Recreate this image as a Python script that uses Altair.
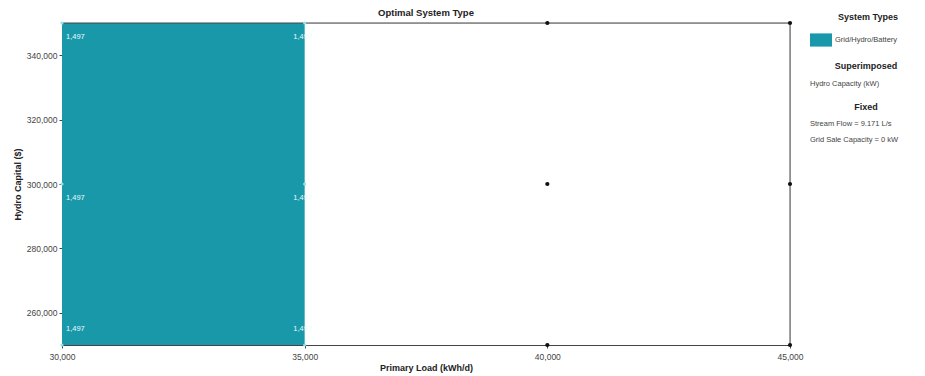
import altair as alt
import pandas as pd

# Sensitivity grid
primary_load = [30000, 35000, 40000, 45000]          # kWh/d
hydro_capital = [250000, 300000, 350000]             # $
optimal_type = ["Grid/Hydro/Battery", "Grid/Hydro/Battery", None, None]  # per load column
hydro_capacity_kw = [1497, 1497, 0, 0]               # superimposed value per load column

x_ticks = [30000, 35000, 40000, 45000]
y_ticks = [260000, 280000, 300000, 320000, 340000]

system_types = ["Grid/Hydro/Battery"]
system_colors = ["#1898a9"]

fixed_lines = ["Stream Flow = 9.171 L/s", "Grid Sale Capacity = 0 kW"]
superimposed_lines = ["Hydro Capacity (kW)"]

FONT = "Liberation Sans"

# Grid points
rows = []
for load, stype, cap in zip(primary_load, optimal_type, hydro_capacity_kw):
    for capital in hydro_capital:
        rows.append({
            "load": load,
            "capital": capital,
            "system": stype if stype else "",
            "feasible": stype is not None,
            "label": f"{cap:,}" if stype else "",
            "edge": "bottom" if capital == min(hydro_capital) else "other",
            "first": load == min(primary_load),
        })
grid = pd.DataFrame(rows)

# Region where the optimal system type applies
feas = grid[grid["feasible"]]
region = pd.DataFrame([{
    "system": system_types[0],
    "x": feas["load"].min(), "x2": feas["load"].max(),
    "y": feas["capital"].min(), "y2": feas["capital"].max(),
}])

W, H = 728, 322

x_scale = alt.Scale(domain=[primary_load[0], primary_load[-1]], nice=False, zero=False)
y_scale = alt.Scale(domain=[hydro_capital[0], hydro_capital[-1]], nice=False, zero=False)

x_axis = alt.Axis(values=x_ticks, format=",.0f", title="Primary Load (kWh/d)",
                  labelFontSize=8.5, labelColor="#444", titleFontSize=9,
                  titleFontWeight="bold", titleColor="#222", tickSize=3,
                  labelPadding=4, titlePadding=3, grid=False, labelFlush=False,
                  domainColor="#444", tickColor="#444", labelFont=FONT, titleFont=FONT)
y_axis = alt.Axis(values=y_ticks, format=",.0f", title="Hydro Capital ($)",
                  labelFontSize=8.5, labelColor="#444", titleFontSize=9,
                  titleFontWeight="bold", titleColor="#222", tickSize=3,
                  labelPadding=2, titlePadding=4, grid=False,
                  domainColor="#444", tickColor="#444", labelFont=FONT, titleFont=FONT)

area = alt.Chart(region).mark_rect(opacity=1).encode(
    x=alt.X("x:Q", scale=x_scale, axis=x_axis),
    x2="x2",
    y=alt.Y("y:Q", scale=y_scale, axis=y_axis),
    y2="y2",
    color=alt.Color("system:N",
                    scale=alt.Scale(domain=system_types, range=system_colors),
                    legend=alt.Legend(title=None, orient="none", legendX=748, legendY=6,
                                      symbolType="M-1,-0.6L1,-0.6L1,0.6L-1,0.6Z",
                                      symbolSize=484, symbolStrokeWidth=0,
                                      labelFontSize=7.5, labelColor="#444",
                                      labelFont=FONT, labelOffset=3, padding=0)),
)

# Top and right frame lines
frame_top = alt.Chart(region).mark_rule(color="#444", strokeWidth=1).encode(
    x=alt.value(0), x2=alt.value(W), y=alt.value(0))
frame_right = alt.Chart(region).mark_rule(color="#444", strokeWidth=1).encode(
    x=alt.value(W), y=alt.value(0), y2=alt.value(H))

dots_off = alt.Chart(grid).transform_filter("!datum.feasible").mark_circle(
    size=18, color="#111", opacity=1
).encode(x=alt.X("load:Q", scale=x_scale), y=alt.Y("capital:Q", scale=y_scale))

dots_on = alt.Chart(grid).transform_filter("datum.feasible").mark_circle(
    size=10, color="#8fe3ee", opacity=1
).encode(x=alt.X("load:Q", scale=x_scale), y=alt.Y("capital:Q", scale=y_scale))


def value_labels(cond, align, dx, dy):
    return alt.Chart(grid).transform_filter(cond).mark_text(
        align=align, baseline="middle", dx=dx, dy=dy, fontSize=7.5,
        color="#e8fbff", font=FONT
    ).encode(x=alt.X("load:Q", scale=x_scale), y=alt.Y("capital:Q", scale=y_scale),
             text="label:N")


labels = [
    value_labels("datum.feasible && datum.first && datum.edge == 'other'", "left", 4, 14),
    value_labels("datum.feasible && datum.first && datum.edge == 'bottom'", "left", 4, -16),
    value_labels("datum.feasible && !datum.first && datum.edge == 'other'", "center", -2, 14),
    value_labels("datum.feasible && !datum.first && datum.edge == 'bottom'", "center", -2, -16),
]


def side_text(text, x, y, bold=False, align="left", size=None):
    return alt.Chart(region).mark_text(
        align=align, baseline="middle",
        fontSize=size if size else (9 if bold else 7.5),
        fontWeight="bold" if bold else "normal",
        color="#222" if bold else "#444", font=FONT
    ).encode(x=alt.value(x), y=alt.value(y), text=alt.value(text))


side = [
    side_text("Optimal System Type", W / 2, -10, bold=True, align="center", size=9.5),
    side_text("System Types", 806, -6, bold=True, align="center"),
    side_text("Superimposed", 804, 43, bold=True, align="center"),
    side_text(superimposed_lines[0], 748, 61),
    side_text("Fixed", 804, 84, bold=True, align="center"),
    side_text(fixed_lines[0], 748, 101),
    side_text(fixed_lines[1], 748, 117),
]

chart = alt.layer(area, frame_top, frame_right, dots_off, dots_on, *labels, *side).properties(
    width=W, height=H,
    autosize=alt.AutoSizeParams(type="none"),
    padding={"left": 62, "top": 23, "right": 135, "bottom": 31},
).configure_view(strokeWidth=0).configure(background="white")

chart.save("out.html", embed_options={"renderer": "svg", "actions": False})
